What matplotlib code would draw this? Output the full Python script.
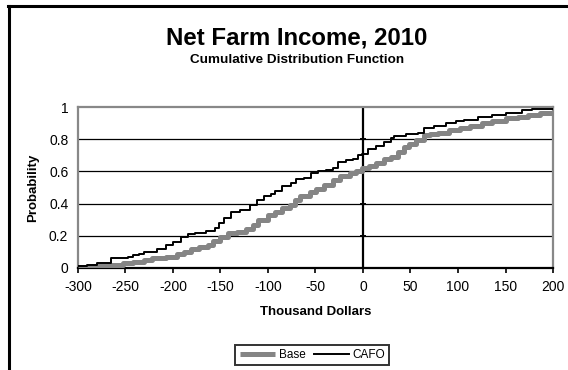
import matplotlib
matplotlib.use("Agg")
import matplotlib.pyplot as plt
from matplotlib.lines import Line2D

plt.rcParams['font.family'] = ['Liberation Sans', 'DejaVu Sans']

# Empirical CDF breakpoints (thousand dollars, cumulative probability)
base_x = [-300, -284, -268, -253, -242, -230, -222, -207, -196, -188, -181, -173,
          -163, -158, -150, -142, -133, -123, -116, -110, -100, -93, -85, -77,
          -72, -66, -56, -49, -41, -32, -24, -14, -7, -1, 6, 14, 22, 29, 37, 43,
          48, 56, 64, 71, 79, 90, 102, 113, 125, 136, 151, 163, 174, 186, 200]
base_p = [0.005, 0.015, 0.02, 0.03, 0.04, 0.05, 0.06, 0.07, 0.09, 0.10, 0.12, 0.13,
          0.145, 0.17, 0.19, 0.22, 0.225, 0.24, 0.27, 0.30, 0.33, 0.35, 0.37, 0.39,
          0.42, 0.45, 0.47, 0.49, 0.515, 0.545, 0.57, 0.59, 0.605, 0.62, 0.635, 0.655,
          0.675, 0.69, 0.72, 0.75, 0.77, 0.795, 0.825, 0.835, 0.84, 0.855, 0.87,
          0.885, 0.90, 0.91, 0.93, 0.94, 0.95, 0.96, 0.965]

cafo_x = [-300, -291, -280, -265, -247, -242, -236, -230, -217, -207, -200, -192,
          -184, -177, -165, -156, -152, -146, -139, -129, -119, -112, -104, -97,
          -93, -85, -76, -70, -62, -55, -47, -39, -32, -26, -18, -11, -5, -1, 5,
          14, 22, 29, 33, 45, 58, 64, 75, 87, 98, 106, 121, 136, 151, 167, 178, 200]
cafo_p = [0.01, 0.02, 0.03, 0.06, 0.07, 0.08, 0.09, 0.10, 0.12, 0.14, 0.16, 0.19,
          0.21, 0.22, 0.23, 0.25, 0.28, 0.31, 0.35, 0.36, 0.39, 0.42, 0.45, 0.46,
          0.48, 0.51, 0.53, 0.55, 0.56, 0.59, 0.60, 0.61, 0.62, 0.66, 0.67, 0.68,
          0.70, 0.71, 0.74, 0.76, 0.78, 0.81, 0.82, 0.835, 0.84, 0.87, 0.88, 0.90,
          0.91, 0.92, 0.94, 0.95, 0.965, 0.98, 0.99, 0.99]

x_ticks = [-300, -250, -200, -150, -100, -50, 0, 50, 100, 150, 200]
y_ticks = [0, 0.2, 0.4, 0.6, 0.8, 1]
y_labels = ['0', '0.2', '0.4', '0.6', '0.8', '1']

fig = plt.figure(figsize=(5.68, 3.70), dpi=100)

# outer chart frame (left and top edges)
fig.add_artist(Line2D([0.015, 0.015], [0.0, 0.983], transform=fig.transFigure,
                      color='black', lw=2.2))
fig.add_artist(Line2D([0.014, 1.0], [0.983, 0.983], transform=fig.transFigure,
                      color='black', lw=2.2))

ax = fig.add_axes([0.1373, 0.2757, 0.9736 - 0.1373, 0.7108 - 0.2757])
ax.set_xlim(-300, 200)
ax.set_ylim(0, 1)

for y in y_ticks[1:-1]:
    ax.axhline(y, color='black', lw=0.9, zorder=1)
ax.axvline(0, color='black', lw=1.6, zorder=2)
# small tick marks on the vertical zero axis
ax.plot([0] * (len(y_ticks) - 2), y_ticks[1:-1], ls='none', marker='_',
        ms=5, mew=1.4, color='black', zorder=2)

ax.plot(base_x, base_p, drawstyle='steps-post', color='#858585', lw=3.6,
        solid_capstyle='butt', zorder=3, label='Base')
ax.plot(cafo_x, cafo_p, drawstyle='steps-post', color='black', lw=1.4,
        zorder=4, label='CAFO')

for side in ['left', 'top', 'right']:
    ax.spines[side].set_color('#888888')
    ax.spines[side].set_linewidth(1.6)
ax.spines['bottom'].set_color('black')
ax.spines['bottom'].set_linewidth(1.6)

ax.set_xticks(x_ticks)
ax.set_xticklabels([str(v) for v in x_ticks])
ax.set_yticks(y_ticks)
ax.set_yticklabels(y_labels)
ax.tick_params(axis='x', direction='out', length=3.5, width=1.2, color='black',
               labelsize=10, pad=5)
ax.tick_params(axis='y', length=0, labelsize=10, pad=7)

ax.set_xlabel('Thousand Dollars', fontsize=9.5, fontweight='bold', labelpad=9)
ax.set_ylabel('Probability', fontsize=9.5, fontweight='bold', labelpad=7)

fig.text(0.523, 0.898, 'Net Farm Income, 2010', ha='center', va='center',
         fontsize=17.3, fontweight='bold')
fig.text(0.523, 0.837, 'Cumulative Distribution Function', ha='center',
         va='center', fontsize=9.7, fontweight='bold')

leg = fig.legend(loc='center', bbox_to_anchor=(0.55, 0.04), ncol=2,
                 fontsize=8.5, frameon=True, fancybox=False, handlelength=3.0,
                 handletextpad=0.3, columnspacing=0.7, borderpad=0.35)
leg.get_frame().set_edgecolor('black')
leg.get_frame().set_linewidth(1.4)

fig.savefig('out.png', dpi=100)
